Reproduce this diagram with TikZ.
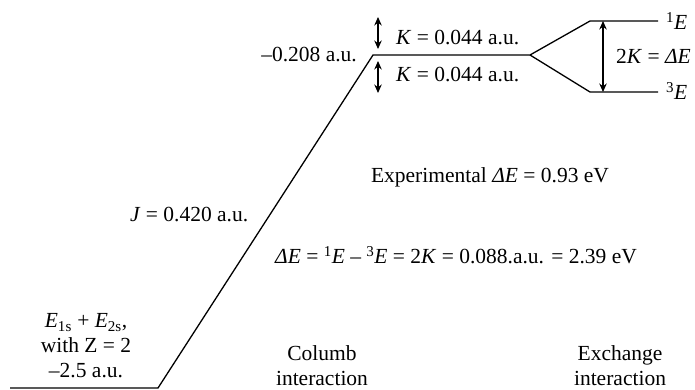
\documentclass[tikz,border=0pt]{standalone}
\usepackage{fontspec}
\setmainfont{Liberation Serif}
\usetikzlibrary{arrows.meta}
\begin{document}
\begin{tikzpicture}[x=1pt,y=-1pt,
  lvl/.style={line width=1.3pt},
  dbl/.style={{Stealth[length=8.5pt,width=7.5pt]}-{Stealth[length=8.5pt,width=7.5pt]}, line width=1.2pt},
  lbl/.style={inner sep=0pt, font=\fontsize{21.5}{25}\selectfont, align=center}]
\useasboundingbox (0,0) rectangle (695,390);
% level points
\coordinate (b0) at (10,388);
\coordinate (b1) at (158,388);
\coordinate (t0) at (373,55);
\coordinate (t1) at (530,55);
\coordinate (u0) at (590,21);
\coordinate (u1) at (658,21);
\coordinate (l0) at (590,92);
\coordinate (l1) at (658,92);
\draw[lvl] (b0) -- (b1) -- (t0) -- (t1) -- (u0) -- (u1);
\draw[lvl] (t1) -- (l0) -- (l1);
% arrows
\coordinate (ka) at (378,17);
\coordinate (kb) at (378,49);
\coordinate (kc) at (378,61);
\coordinate (kd) at (378,93);
\draw[dbl] (ka) -- (kb);
\draw[dbl] (kc) -- (kd);
\coordinate (da) at (603,21);
\coordinate (db) at (603,92);
\draw[dbl] (da) -- (db);
% labels
\node[lbl, anchor=east] (top) at (357,55) {–0.208 a.u.};
\node[lbl, anchor=west] (k1) at (396,38) {\textit{K} = 0.044 a.u.};
\node[lbl, anchor=west] (k2) at (396,75) {\textit{K} = 0.044 a.u.};
\node[lbl, anchor=west] (e1) at (666,21) {\textsuperscript{1}\textit{E}};
\node[lbl, anchor=west] (e3) at (666,91) {\textsuperscript{3}\textit{E}};
\node[lbl, anchor=west] (dk) at (616,56) {2\textit{K} = \textit{ΔE}};
\node[lbl] (exp) at (490,177) {Experimental \textit{ΔE} = 0.93 eV};
\node[lbl] (form) at (456,255) {\textit{ΔE} = \textsuperscript{1}\textit{E} – \textsuperscript{3}\textit{E} = 2\textit{K} = 0.088.a.u. = 2.39 eV};
\node[lbl, anchor=west] (j) at (130,215) {\textit{J} = 0.420 a.u.};
\node[lbl] (left) at (86,346) {\textit{E}\textsubscript{1s} + \textit{E}\textsubscript{2s},\\with Z = 2\\–2.5 a.u.};
\node[lbl] (col) at (322,366) {Columb\\interaction};
\node[lbl] (exc) at (620,366) {Exchange\\interaction};
\end{tikzpicture}
\end{document}
